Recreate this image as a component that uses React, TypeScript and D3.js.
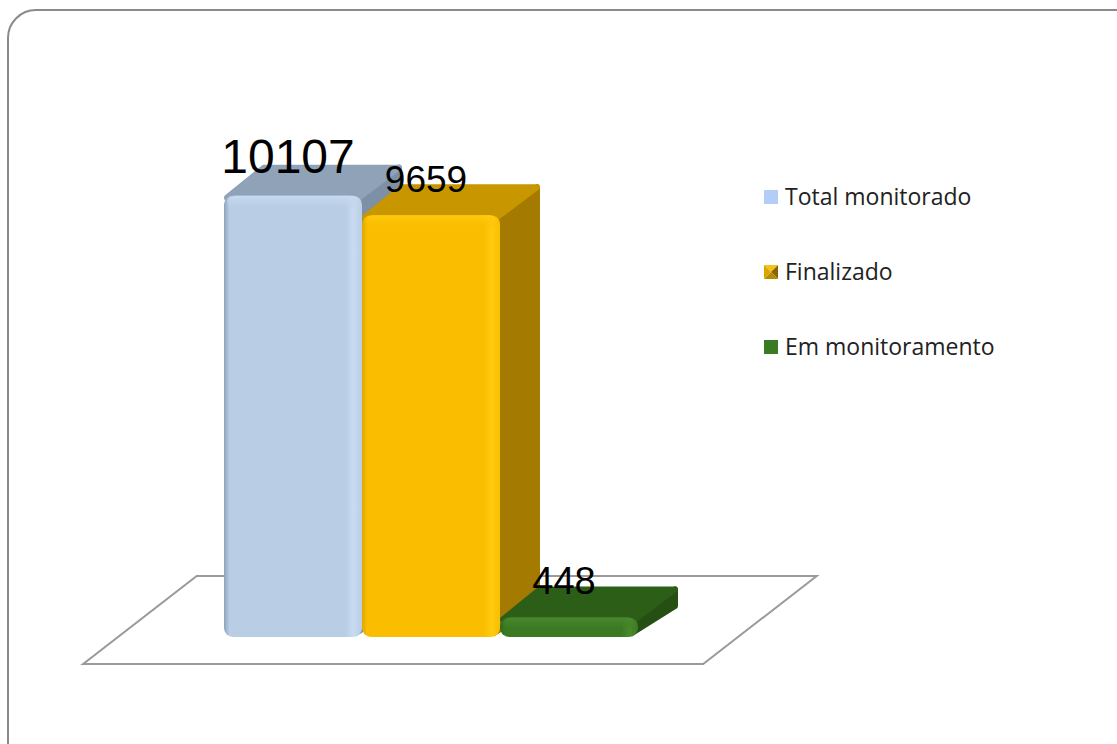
import React from 'react';
import * as d3 from 'd3';

// data
const categories = ['Total monitorado', 'Finalizado', 'Em monitoramento'];
const values = [10107, 9659, 448];

// look of each bar (front, top, side, highlight, edge)
const palette = [
  { front: '#b9cde5', top: '#8fa2b8', side: '#7d90a6', light: '#c8dbf2', edge: '#8ea3bc', legend: '#b3cdf6' },
  { front: '#fabd00', top: '#c89700', side: '#a47b00', light: '#ffcb10', edge: '#e0a800', legend: '#e0a800' },
  { front: '#3b7a22', top: '#2d5e18', side: '#254f13', light: '#4a8a2c', edge: '#2f6a1a', legend: '#3a7a23' },
];
const labelFont = [48, 37, 38];

const W = 1117;
const H = 744;
const depth = { dx: 40, dy: -31 };
const font = "'Open Sans', 'Noto Sans', 'Liberation Sans', sans-serif";

const App = () => {
  const x = d3.scaleBand<string>().domain(categories).range([224, 638]).padding(0);
  const y = d3.scaleLinear().domain([0, 12000]).range([637, 113]);
  const bw = x.bandwidth();
  const base = y(0);

  // floor parallelogram
  const floorL = 118, floorR = 738;
  const fFront = 27 / 31, fBack = 61 / 31;
  const floor = [
    [floorL - depth.dx * fFront, base - depth.dy * fFront],
    [floorR - depth.dx * fFront, base - depth.dy * fFront],
    [floorR + depth.dx * fBack, base + depth.dy * fBack],
    [floorL + depth.dx * fBack, base + depth.dy * fBack],
  ];
  const poly = (pts: number[][]) => pts.map((p) => p.join(',')).join(' ');

  return (
    <svg width={W} height={H} style={{ position: 'absolute', left: 0, top: 0, background: '#fff' }}>
      <defs>
        {palette.map((c, i) => (
          <linearGradient key={i} id={`front${i}`} x1="0" x2="1" y1="0" y2="0">
            <stop offset="0" stopColor={c.edge} />
            <stop offset="0.04" stopColor={c.front} />
            <stop offset="0.88" stopColor={c.front} />
            <stop offset="0.94" stopColor={c.light} />
            <stop offset="1" stopColor={c.front} />
          </linearGradient>
        ))}
        {palette.map((c, i) => (
          <linearGradient key={i} id={`cap${i}`} x1="0" x2="0" y1="0" y2="1">
            <stop offset="0" stopColor={c.light} />
            <stop offset="1" stopColor={c.front} stopOpacity="0" />
          </linearGradient>
        ))}
      </defs>

      <rect x={8} y={10} width={1140} height={770} rx={28} fill="#fff" stroke="#8a8a8a" strokeWidth={2} />

      <polygon points={poly(floor)} fill="#fff" stroke="#9a9a9a" strokeWidth={2} />

      {categories.map((cat, i) => {
        const x0 = x(cat)!;
        const x1 = x0 + bw;
        const top = y(values[i]);
        const c = palette[i];
        const { dx, dy } = depth;
        const r = 9;
        return (
          <g key={cat}>
            <polygon
              points={poly([[x1 - 6, top + 2], [x1 + dx - 3, top + dy + 3], [x1 + dx - 3, base + dy], [x1 - 6, base - 4]])}
              fill={c.side} stroke={c.side} strokeWidth={6} strokeLinejoin="round"
            />
            <polygon
              points={poly([[x0 + 3, top + 2], [x0 + dx, top + dy + 3], [x1 + dx - 3, top + dy + 3], [x1 - 3, top + 2]])}
              fill={c.top} stroke={c.top} strokeWidth={6} strokeLinejoin="round"
            />
            <rect x={x0} y={top} width={bw} height={base - top} rx={r} fill={`url(#front${i})`} />
            <rect x={x0 + 3} y={top} width={bw - 6} height={Math.min(14, base - top)} rx={r} fill={`url(#cap${i})`} />
          </g>
        );
      })}

      {categories.map((cat, i) => (
        <text
          key={cat}
          x={x(cat)! + bw / 2 - 5}
          y={y(values[i]) - 23}
          textAnchor="middle"
          fontFamily="'Liberation Sans', Arial, sans-serif"
          fontSize={labelFont[i]}
          fill="#000"
        >
          {values[i]}
        </text>
      ))}

      {categories.map((cat, i) => {
        const ly = 205 + i * 75;
        const c = palette[i];
        const sx = 764, sy = ly - 15, s = 14;
        return (
          <g key={cat}>
            {i === 1 ? (
              <g>
                <polygon points={poly([[sx, sy], [sx + s, sy], [sx + s / 2, sy + s / 2]])} fill="#f6c21a" />
                <polygon points={poly([[sx + s, sy], [sx + s, sy + s], [sx + s / 2, sy + s / 2]])} fill="#8a6400" />
                <polygon points={poly([[sx, sy + s], [sx + s, sy + s], [sx + s / 2, sy + s / 2]])} fill="#b88a00" />
                <polygon points={poly([[sx, sy], [sx, sy + s], [sx + s / 2, sy + s / 2]])} fill="#d9a600" />
              </g>
            ) : (
              <rect x={sx} y={sy} width={s} height={s} fill={c.legend} />
            )}
            <text x={785} y={ly} fontFamily={font} fontSize={23} fill="#222">
              {cat}
            </text>
          </g>
        );
      })}
    </svg>
  );
};

export default App;
